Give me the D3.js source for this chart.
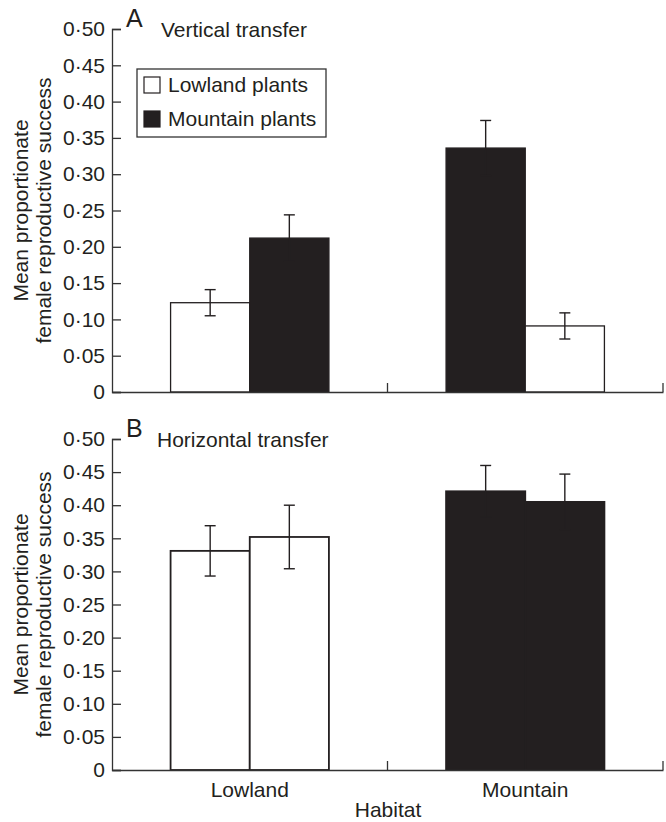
<!DOCTYPE html>
<html>
<head>
<meta charset="utf-8">
<script src="https://cdn.jsdelivr.net/npm/d3@7"></script>
<style>
    body { margin: 0; background: #fff; }
    svg { display: block; font-family: "Liberation Sans", Arial, Helvetica, sans-serif; }
    .axis text { font-size: 21px; fill: #231f20; }
    .axis path, .axis line { stroke: #333; stroke-width: 1.3; }
</style>
</head>
<body>
<div id="chart"></div>
<script>
// Data
const habitats = ['Lowland', 'Mountain'];
const origins = ['Lowland plants', 'Mountain plants'];
const yTicks = [0, 0.05, 0.10, 0.15, 0.20, 0.25, 0.30, 0.35, 0.40, 0.45, 0.50];

// A: vertical transfer (native plants first in each habitat)
const verticalHabitat = ['Lowland', 'Lowland', 'Mountain', 'Mountain'];
const verticalOrigin = ['Lowland plants', 'Mountain plants', 'Mountain plants', 'Lowland plants'];
const verticalMean = [0.123, 0.212, 0.336, 0.091];
const verticalErr = [0.018, 0.032, 0.038, 0.018];

// B: horizontal transfer
const horizontalHabitat = ['Lowland', 'Lowland', 'Mountain', 'Mountain'];
const horizontalOrigin = ['Lowland plants', 'Lowland plants', 'Mountain plants', 'Mountain plants'];
const horizontalMean = [0.331, 0.352, 0.421, 0.405];
const horizontalErr = [0.038, 0.048, 0.039, 0.042];

const INK = '#231f20';
const width = 666, height = 822;

const svg = d3.select('#chart').append('svg')
    .attr('width', width)
    .attr('height', height);

const x = d3.scaleBand()
    .domain(habitats)
    .range([112, 663]);

// position within a habitat group (two bars side by side)
const xInner = d3.scaleBand()
    .domain([0, 1])
    .range([0, x.bandwidth()])
    .paddingOuter(0.74);

const color = d3.scaleOrdinal()
    .domain(origins)
    .range(['#ffffff', INK]);

const fmt = d => d === 0 ? '0' : d3.format('.2f')(d).replace('.', '\u00b7');

function drawPanel(opts) {
    const y = d3.scaleLinear().domain([0, 0.5]).range([opts.bottom, opts.top]);
    const g = svg.append('g');

    const rows = opts.mean.map((m, i) => ({
        habitat: opts.habitat[i],
        origin: opts.origin[i],
        slot: i % 2,
        mean: m,
        err: opts.err[i]
    }));

    // Bars
    g.selectAll('rect.bar').data(rows).enter().append('rect')
        .attr('class', 'bar')
        .attr('x', d => x(d.habitat) + xInner(d.slot))
        .attr('y', d => y(d.mean))
        .attr('width', xInner.bandwidth())
        .attr('height', d => y(0) - y(d.mean))
        .attr('fill', d => color(d.origin))
        .attr('stroke', INK)
        .attr('stroke-width', opts.barStroke);

    // Error bars
    const cx = d => x(d.habitat) + xInner(d.slot) + xInner.bandwidth() / 2;
    const eb = g.selectAll('g.err').data(rows).enter().append('g')
        .attr('class', 'err')
        .attr('stroke', INK)
        .attr('stroke-width', 1.4);
    eb.append('line')
        .attr('x1', cx).attr('x2', cx)
        .attr('y1', d => y(d.mean - d.err))
        .attr('y2', d => y(d.mean + d.err));
    eb.append('line')
        .attr('x1', d => cx(d) - 5.5).attr('x2', d => cx(d) + 5.5)
        .attr('y1', d => y(d.mean + d.err)).attr('y2', d => y(d.mean + d.err));
    eb.append('line')
        .attr('x1', d => cx(d) - 5.5).attr('x2', d => cx(d) + 5.5)
        .attr('y1', d => y(d.mean - d.err)).attr('y2', d => y(d.mean - d.err));

    // Y axis, ticks pointing inwards
    g.append('g')
        .attr('class', 'axis')
        .attr('transform', `translate(${x.range()[0]},0)`)
        .call(d3.axisLeft(y).tickValues(yTicks).tickFormat(fmt)
            .tickSizeInner(-9).tickSizeOuter(-9).tickPadding(7));

    // X axis: baseline with upward ticks at group boundaries
    const xAxis = g.append('g')
        .attr('class', 'axis')
        .attr('transform', `translate(0,${y(0)})`)
        .call(d3.axisBottom(x).tickSize(0).tickPadding(12)
            .tickFormat(opts.showLabels ? d => d : () => ''));
    xAxis.selectAll('text').attr('dy', '0.71em');
    xAxis.selectAll('.bound').data(habitats).enter().append('line')
        .attr('class', 'bound')
        .attr('x1', d => x(d) + x.bandwidth()).attr('x2', d => x(d) + x.bandwidth())
        .attr('y1', 0).attr('y2', -9);

    // Panel letter and title
    g.append('text')
        .attr('x', 126).attr('y', opts.top - 2)
        .attr('font-size', 25).attr('fill', INK)
        .text(opts.letter);
    g.append('text')
        .attr('x', opts.titleX).attr('y', opts.top + 8)
        .attr('font-size', 21).attr('fill', INK)
        .text(opts.title);

    // Y axis title (two lines)
    const cy = (opts.top + opts.bottom) / 2;
    [['Mean proportionate', 28], ['female reproductive success', 51]].forEach(([t, bx]) => {
        g.append('text')
            .attr('transform', `translate(${bx},${cy}) rotate(-90)`)
            .attr('text-anchor', 'middle')
            .attr('font-size', 21).attr('fill', INK)
            .text(t);
    });

    return y;
}

drawPanel({
    top: 29, bottom: 392, letter: 'A', title: 'Vertical transfer', titleX: 161,
    habitat: verticalHabitat, origin: verticalOrigin, mean: verticalMean, err: verticalErr,
    barStroke: 1.3, showLabels: false
});

drawPanel({
    top: 439, bottom: 770, letter: 'B', title: 'Horizontal transfer', titleX: 157,
    habitat: horizontalHabitat, origin: horizontalOrigin, mean: horizontalMean, err: horizontalErr,
    barStroke: 1.8, showLabels: true
});

// Legend (panel A)
const legend = svg.append('g');
legend.append('rect')
    .attr('x', 137).attr('y', 69).attr('width', 189).attr('height', 68)
    .attr('fill', '#fff').attr('stroke', '#333').attr('stroke-width', 1.3);
const items = legend.selectAll('g.item').data(origins).enter().append('g')
    .attr('class', 'item')
    .attr('transform', (d, i) => `translate(144,${77 + i * 34})`);
items.append('rect')
    .attr('width', 16).attr('height', 16)
    .attr('fill', d => color(d))
    .attr('stroke', INK).attr('stroke-width', 1.2);
items.append('text')
    .attr('x', 24).attr('y', 15)
    .attr('font-size', 21).attr('fill', INK)
    .text(d => d);

// X axis title
svg.append('text')
    .attr('x', 388).attr('y', 817)
    .attr('text-anchor', 'middle')
    .attr('font-size', 21).attr('fill', INK)
    .text('Habitat');
</script>
</body>
</html>
